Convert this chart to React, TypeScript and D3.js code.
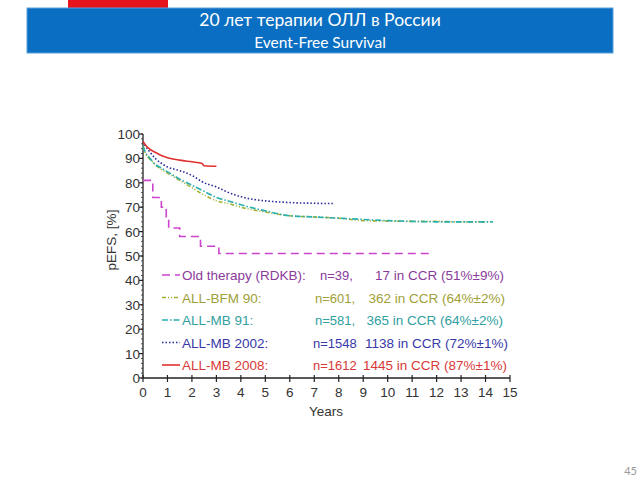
import React from "react";
import * as d3 from "d3";

const xTicks = [0, 1, 2, 3, 4, 5, 6, 7, 8, 9, 10, 11, 12, 13, 14, 15];
const yTicks = [0, 10, 20, 30, 40, 50, 60, 70, 80, 90, 100];

const oldT = [0, 0.4, 0.75, 0.95, 1.05, 1.5, 2.35, 3.1, 11.8];
const oldV = [81, 74, 70, 66, 61.5, 58, 54, 51, 51];

const redT = [0, 0.1, 0.25, 0.5, 0.75, 1, 1.5, 2, 2.4, 2.5, 3.0];
const redV = [97, 95.5, 94, 92.5, 91.2, 90.3, 89.3, 88.6, 88, 87, 86.8];

const blueT = [0, 0.1, 0.25, 0.5, 0.75, 1, 1.5, 2, 2.5, 3, 3.5, 4, 4.5, 5, 6, 7, 7.8];
const blueV = [97, 95, 93, 90, 88, 86.5, 85, 83, 80, 78.3, 76, 74.3, 73.2, 72.6, 71.9, 71.6, 71.5];

const bfmT = [0, 0.1, 0.25, 0.45, 0.75, 1, 1.5, 2, 2.5, 3, 3.5, 4, 5, 6, 7, 8, 9, 10, 11, 12, 13, 14.3];
const bfmV = [95, 92, 90, 88, 85.5, 84, 81, 78, 75, 72.6, 71.5, 70, 68, 66.5, 66, 65.5, 64.5, 64.3, 64.2, 64.2, 64, 64];

const mb91T = [0, 0.1, 0.25, 0.45, 0.75, 1, 1.5, 2, 2.5, 3, 3.5, 4, 5, 6, 7, 8, 9, 10, 11, 12, 13, 14.3];
const mb91V = [95, 92.5, 90.5, 88, 86, 84.5, 81.5, 79, 76.5, 74, 72.5, 71, 68.5, 66.5, 66, 65.5, 65, 64.5, 64.2, 64, 64, 64];

const legendNames = ["Old therapy (RDKB):", "ALL-BFM 90:", "ALL-MB 91:", "ALL-MB 2002:", "ALL-MB 2008:"];
const legendN = ["n=39,", "n=601,", "n=581,", "n=1548", "n=1612"];
const legendCCR = ["17 in CCR (51%\u00b19%)", "362 in CCR (64%\u00b12%)", "365 in CCR (64%\u00b12%)", "1138 in CCR (72%\u00b11%)", "1445 in CCR (87%\u00b11%)"];

const lineColors = ["#cc44cc", "#a3b030", "#2aaeae", "#2a2a9a", "#e03030"];
const textColors = ["#8a3a9a", "#a0a038", "#30a0a0", "#3838a8", "#d83838"];
const dashes = ["8,5", "4,2,1,2,1,2", "6,2,1.5,2", "1.5,2", ""];
const nX = [320, 315, 315, 313, 313];
const ccrEnd = [504, 505, 503, 508, 507];

export default function App() {
  const x = d3.scaleLinear().domain([0, 15]).range([143, 510]);
  const y = d3.scaleLinear().domain([0, 100]).range([378, 134]);
  const font = "'Liberation Sans', Arial, sans-serif";

  const mk = (t: number[], v: number[]) => t.map((d, i) => [d, v[i]] as [number, number]);
  const smooth = d3.line<[number, number]>().x((d) => x(d[0])).y((d) => y(d[1])).curve(d3.curveMonotoneX);
  const step = d3.line<[number, number]>().x((d) => x(d[0])).y((d) => y(d[1])).curve(d3.curveStepAfter);

  const series = [
    { d: step(mk(oldT, oldV)), i: 0 },
    { d: smooth(mk(bfmT, bfmV)), i: 1 },
    { d: smooth(mk(mb91T, mb91V)), i: 2 },
    { d: smooth(mk(blueT, blueV)), i: 3 },
    { d: smooth(mk(redT, redV)), i: 4 },
  ];

  const minorY = d3.range(0, 101, 2);
  const legendY = (i: number) => 275 + i * 22.5;

  return (
    <svg width={640} height={480} style={{ position: "absolute", left: 0, top: 0, background: "#fff" }}>
      {/* header */}
      <rect x={68} y={0} width={100} height={9} fill="#e8141b" />
      <rect x={27} y={8} width={586} height={45} fill="#0a6fc2" stroke="#5aa0dc" strokeWidth={1} />
      <text x={320} y={26} textAnchor="middle" fill="#fff" fontFamily="Lato, 'Open Sans', sans-serif" fontSize={17.5}>
        20 лет терапии ОЛЛ в России
      </text>
      <text x={320} y={48} textAnchor="middle" fill="#fff" fontFamily="Lato, 'Open Sans', sans-serif" fontSize={15.5}>
        Event-Free Survival
      </text>

      {/* axes */}
      <line x1={143} x2={143} y1={y(100)} y2={y(0)} stroke="#222" strokeWidth={1.3} />
      <line x1={143} x2={510} y1={y(0)} y2={y(0)} stroke="#222" strokeWidth={1.3} />
      {minorY.map((v) => (
        <line key={"m" + v} x1={141} x2={143} y1={y(v)} y2={y(v)} stroke="#333" strokeWidth={0.8} />
      ))}
      {yTicks.map((v) => (
        <g key={"y" + v}>
          <line x1={139} x2={143} y1={y(v)} y2={y(v)} stroke="#222" strokeWidth={1.2} />
          <text x={140} y={y(v) + 5} textAnchor="end" fontFamily={font} fontSize={13.5} fill="#333">
            {v}
          </text>
        </g>
      ))}
      {xTicks.map((t) => (
        <g key={"x" + t}>
          <line x1={x(t)} x2={x(t)} y1={y(0) - 3} y2={y(0) + 4} stroke="#222" strokeWidth={1.2} />
          <text x={x(t)} y={397} textAnchor="middle" fontFamily={font} fontSize={13.5} fill="#333">
            {t}
          </text>
        </g>
      ))}
      <text x={326} y={416} textAnchor="middle" fontFamily={font} fontSize={13.5} fill="#333">
        Years
      </text>
      <text transform="translate(116,240) rotate(-90)" textAnchor="middle" fontFamily={font} fontSize={13.5} fill="#333">
        pEFS, [%]
      </text>

      {/* curves */}
      {series.map((s) => (
        <path
          key={"s" + s.i}
          d={s.d || ""}
          fill="none"
          stroke={lineColors[s.i]}
          strokeWidth={1.6}
          strokeDasharray={dashes[s.i] || undefined}
        />
      ))}

      {/* legend */}
      {legendNames.map((name, i) => (
        <g key={"l" + i}>
          <line x1={162} x2={180} y1={legendY(i)} y2={legendY(i)} stroke={lineColors[i]} strokeWidth={1.6}
            strokeDasharray={dashes[i] || undefined} />
          <text x={182} y={legendY(i) + 5} fontFamily={font} fontSize={13.5} fill={textColors[i]}>
            {name}
          </text>
          <text x={nX[i]} y={legendY(i) + 5} fontFamily={font} fontSize={13} fill={textColors[i]}>
            {legendN[i]}
          </text>
          <text x={ccrEnd[i]} y={legendY(i) + 5} textAnchor="end" fontFamily={font} fontSize={13.5} fill={textColors[i]}>
            {legendCCR[i]}
          </text>
        </g>
      ))}

      <text x={637} y={475} textAnchor="end" fontFamily="Lato, sans-serif" fontSize={11} fill="#999">
        45
      </text>
    </svg>
  );
}
